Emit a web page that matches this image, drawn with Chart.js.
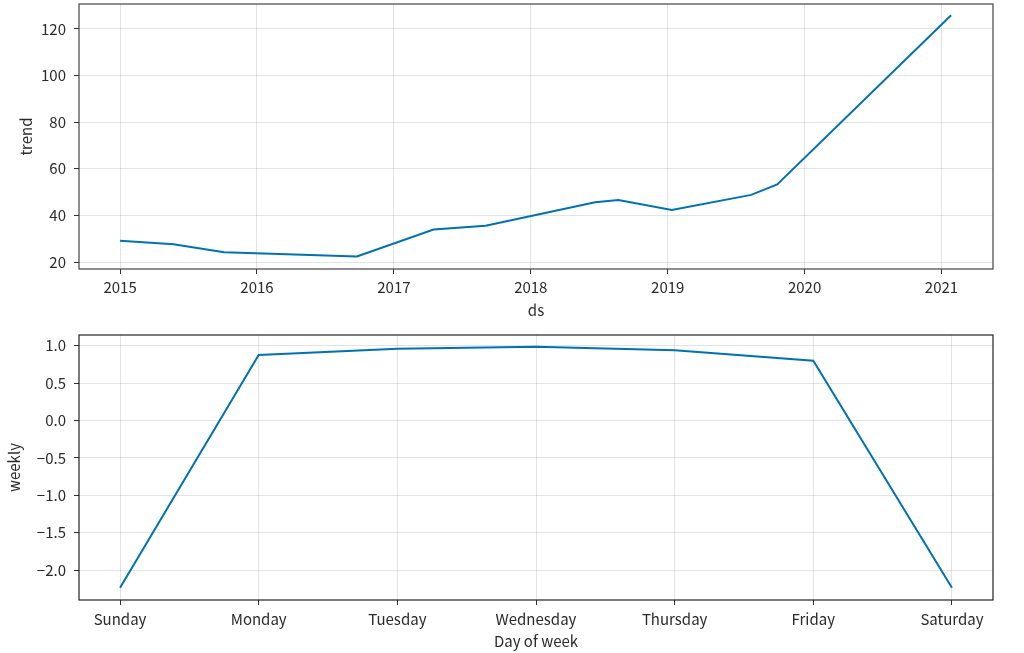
<!DOCTYPE html>
<html>
<head>
<meta charset="utf-8">
<script src="https://cdn.jsdelivr.net/npm/chart.js@4/dist/chart.umd.min.js"></script>
<style>
  html, body { margin: 0; padding: 0; background: #fff; }
  #wrap { position: relative; width: 1024px; height: 653px; }
  .box { position: absolute; left: 0; width: 1024px; }
  #topBox { top: 0; height: 325px; }
  #bottomBox { top: 325px; height: 328px; }
</style>
</head>
<body>
<div id="wrap">
  <div class="box" id="topBox"><canvas id="trendChart" width="1024" height="325"></canvas></div>
  <div class="box" id="bottomBox"><canvas id="weeklyChart" width="1024" height="328"></canvas></div>
</div>
<script>
// Trend component (x in decimal years)
const trendYears = [2015.0, 2015.39, 2015.76, 2016.73, 2017.29, 2017.67, 2018.47, 2018.64, 2019.03, 2019.61, 2019.80, 2021.07];
const trendValues = [29.1, 27.6, 24.2, 22.4, 33.9, 35.6, 45.6, 46.6, 42.3, 48.8, 53.3, 125.9];
const yearTicks = [2015, 2016, 2017, 2018, 2019, 2020, 2021];
const trendTicks = [20, 40, 60, 80, 100, 120];

// Weekly component
const days = ['Sunday', 'Monday', 'Tuesday', 'Wednesday', 'Thursday', 'Friday', 'Saturday'];
const weeklyValues = [-2.236, 0.876, 0.96, 0.985, 0.94, 0.80, -2.236];
const weeklyTicks = [-2.0, -1.5, -1.0, -0.5, 0.0, 0.5, 1.0];

const lineColor = '#0072B2';
const gridColor = 'rgba(0,0,0,0.11)';
const textColor = '#2a2a2a';

Chart.defaults.font.family = "'Noto Sans CJK JP', 'Noto Sans', sans-serif";
Chart.defaults.font.size = 15;
Chart.defaults.color = textColor;

// Draw the full box around the plot area, like matplotlib spines
const framePlugin = {
  id: 'frame',
  afterDraw(chart, args, opts) {
    const a = chart.chartArea;
    const ctx = chart.ctx;
    ctx.save();
    ctx.strokeStyle = opts.color || '#333';
    ctx.lineWidth = 1.2;
    ctx.strokeRect(a.left, a.top, a.right - a.left, a.bottom - a.top);
    ctx.restore();
  }
};

function minusFmt(v) {
  return (v < 0 ? '\u2212' : '') + Math.abs(v).toFixed(1);
}

// no extra room for the edge tick labels, the layout padding decides
function noEdgePadding(s) {
  s.paddingTop = 0;
  s.paddingBottom = 0;
  s.paddingLeft = 0;
  s.paddingRight = 0;
}

function makeChart(id, cfg) {
  return new Chart(document.getElementById(id).getContext('2d'), {
    type: 'line',
    data: {
      datasets: [{
        data: cfg.points,
        borderColor: lineColor,
        borderWidth: 2,
        pointRadius: 0,
        tension: 0,
        fill: false
      }]
    },
    options: {
      responsive: false,
      animation: false,
      layout: { padding: cfg.padding },
      plugins: {
        legend: { display: false },
        tooltip: { enabled: false },
        frame: { color: cfg.frameColor }
      },
      scales: {
        x: {
          type: 'linear',
          min: cfg.xMin,
          max: cfg.xMax,
          afterBuildTicks: s => { s.ticks = cfg.xTicks.map(v => ({ value: v })); },
          afterFit: s => { s.height = cfg.xHeight; noEdgePadding(s); },
          grid: { color: gridColor, tickColor: '#333', tickLength: 5, drawTicks: true },
          border: { display: false },
          ticks: { padding: cfg.xTickPad, maxRotation: 0, autoSkip: false, callback: cfg.xFmt },
          title: { display: true, text: cfg.xTitle, padding: { top: 0, bottom: cfg.xTitlePad } }
        },
        y: {
          type: 'linear',
          min: cfg.yMin,
          max: cfg.yMax,
          afterBuildTicks: s => { s.ticks = cfg.yTicks.map(v => ({ value: v })); },
          afterFit: s => { s.width = 79; noEdgePadding(s); },
          grid: { color: gridColor, tickColor: '#333', tickLength: 5, drawTicks: true },
          border: { display: false },
          ticks: { padding: 8, autoSkip: false, callback: cfg.yFmt },
          title: { display: true, text: cfg.yTitle, padding: { top: cfg.yTitlePad, bottom: 0 } }
        }
      }
    },
    plugins: [framePlugin]
  });
}

document.addEventListener('DOMContentLoaded', function() {
  makeChart('trendChart', {
    points: trendYears.map((x, i) => ({ x: x, y: trendValues[i] })),
    padding: { left: 0, right: 31, top: 4, bottom: 0 },
    frameColor: '#444',
    xMin: 2014.70, xMax: 2021.376, xTicks: yearTicks,
    xFmt: v => String(v),
    xHeight: 56, xTickPad: 4, xTitle: 'ds', xTitlePad: 6,
    yMin: 17.0, yMax: 130.7, yTicks: trendTicks,
    yFmt: v => String(v),
    yTitle: 'trend', yTitlePad: 17
  });

  makeChart('weeklyChart', {
    points: days.map((d, i) => ({ x: i, y: weeklyValues[i] })),
    padding: { left: 0, right: 31, top: 10, bottom: 0 },
    frameColor: '#222',
    xMin: -0.296, xMax: 6.296, xTicks: days.map((d, i) => i),
    xFmt: v => days[v],
    xHeight: 53, xTickPad: 5, xTitle: 'Day of week', xTitlePad: 2.3,
    yMin: -2.401, yMax: 1.143, yTicks: weeklyTicks,
    yFmt: minusFmt,
    yTitle: 'weekly', yTitlePad: 5
  });
});
</script>
</body>
</html>
